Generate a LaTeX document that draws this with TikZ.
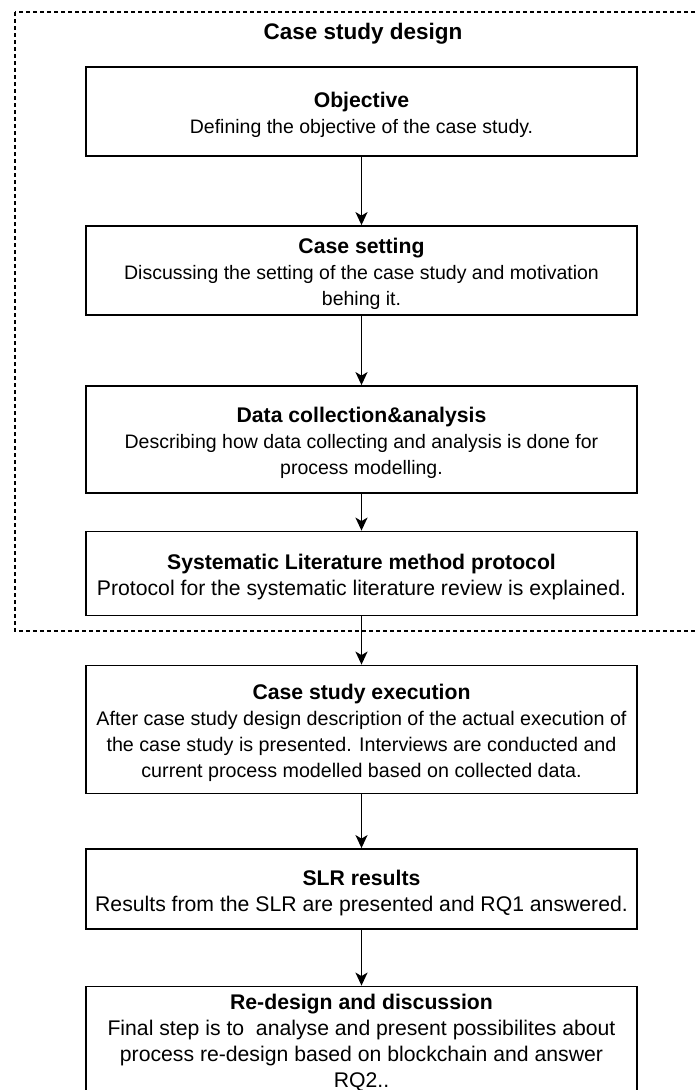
\documentclass[tikz,border=0pt]{standalone}
\usepackage{fontspec}
\setmainfont{Liberation Sans}
\usetikzlibrary{arrows.meta}

\newcommand{\designbody}{\fontsize{19.5}{26}\selectfont}
\newcommand{\execbody}{\fontsize{19.7}{26}\selectfont}
\newcommand{\stagetitle}[1]{\rule{0pt}{23pt}\textbf{#1}}

\begin{document}
\begin{tikzpicture}[x=1pt,y=-1pt,
    every node/.style={font=\fontsize{21.2}{26}\selectfont},
    stage/.style={draw,line width=1.8pt,minimum width=551pt,align=center,inner sep=0pt}]
        \tikzset{edge/.style = {-{Stealth[length=13pt,width=12pt,inset=3.5pt]},line width=1.8pt}}
        \clip (0,0) rectangle (698,1090);
        \draw[line width=1.6pt,dash pattern=on 4pt off 3pt] (15,12) rectangle (730,631);
        \node[font=\bfseries\fontsize{22.5}{26}\selectfont] (title) at (363,34) {Case study design};

        \node[stage, minimum height=89pt] (obj) at (361.5,111.5)
            {\stagetitle{Objective}\\{\designbody Defining the objective of the case study.}};
        \node[stage, minimum height=89pt] (setting) at (361.5,270.5)
            {\stagetitle{Case setting}\\{\designbody Discussing the setting of the case study and motivation}\\{\designbody behing it.}};
        \node[stage, minimum height=107pt] (data) at (361.5,439.5)
            {\stagetitle{Data collection\&analysis}\\{\designbody Describing how data collecting and analysis is done for}\\{\designbody process modelling.}};
        \node[stage, minimum height=84pt] (protocol) at (361.5,573.5)
            {\stagetitle{Systematic Literature method protocol}\\Protocol for the systematic literature review is explained.};

        \node[stage, minimum height=128pt] (exec) at (361.5,729.5)
            {\stagetitle{Case study execution}\\{\execbody After case study design description of the actual execution of}\\{\execbody the case study is presented. Interviews are conducted and}\\{\execbody current process modelled based on collected data.}};
        \node[stage, minimum height=80pt] (slr) at (361.5,889)
            {\stagetitle{SLR results}\\Results from the SLR are presented and RQ1 answered.};
        \node[stage, minimum height=102pt] (redesign) at (361.5,1039)
            {\stagetitle{Re-design and discussion}\\Final step is to\ \ analyse and present possibilites about\\process re-design based on blockchain and answer\\RQ2..};

        \draw[edge] (obj) to (setting);
        \draw[edge] (setting) to (data);
        \draw[edge] (data) to (protocol);
        \draw[edge] (protocol) to (exec);
        \draw[edge] (exec) to (slr);
        \draw[edge] (slr) to (redesign);
\end{tikzpicture}
\end{document}
